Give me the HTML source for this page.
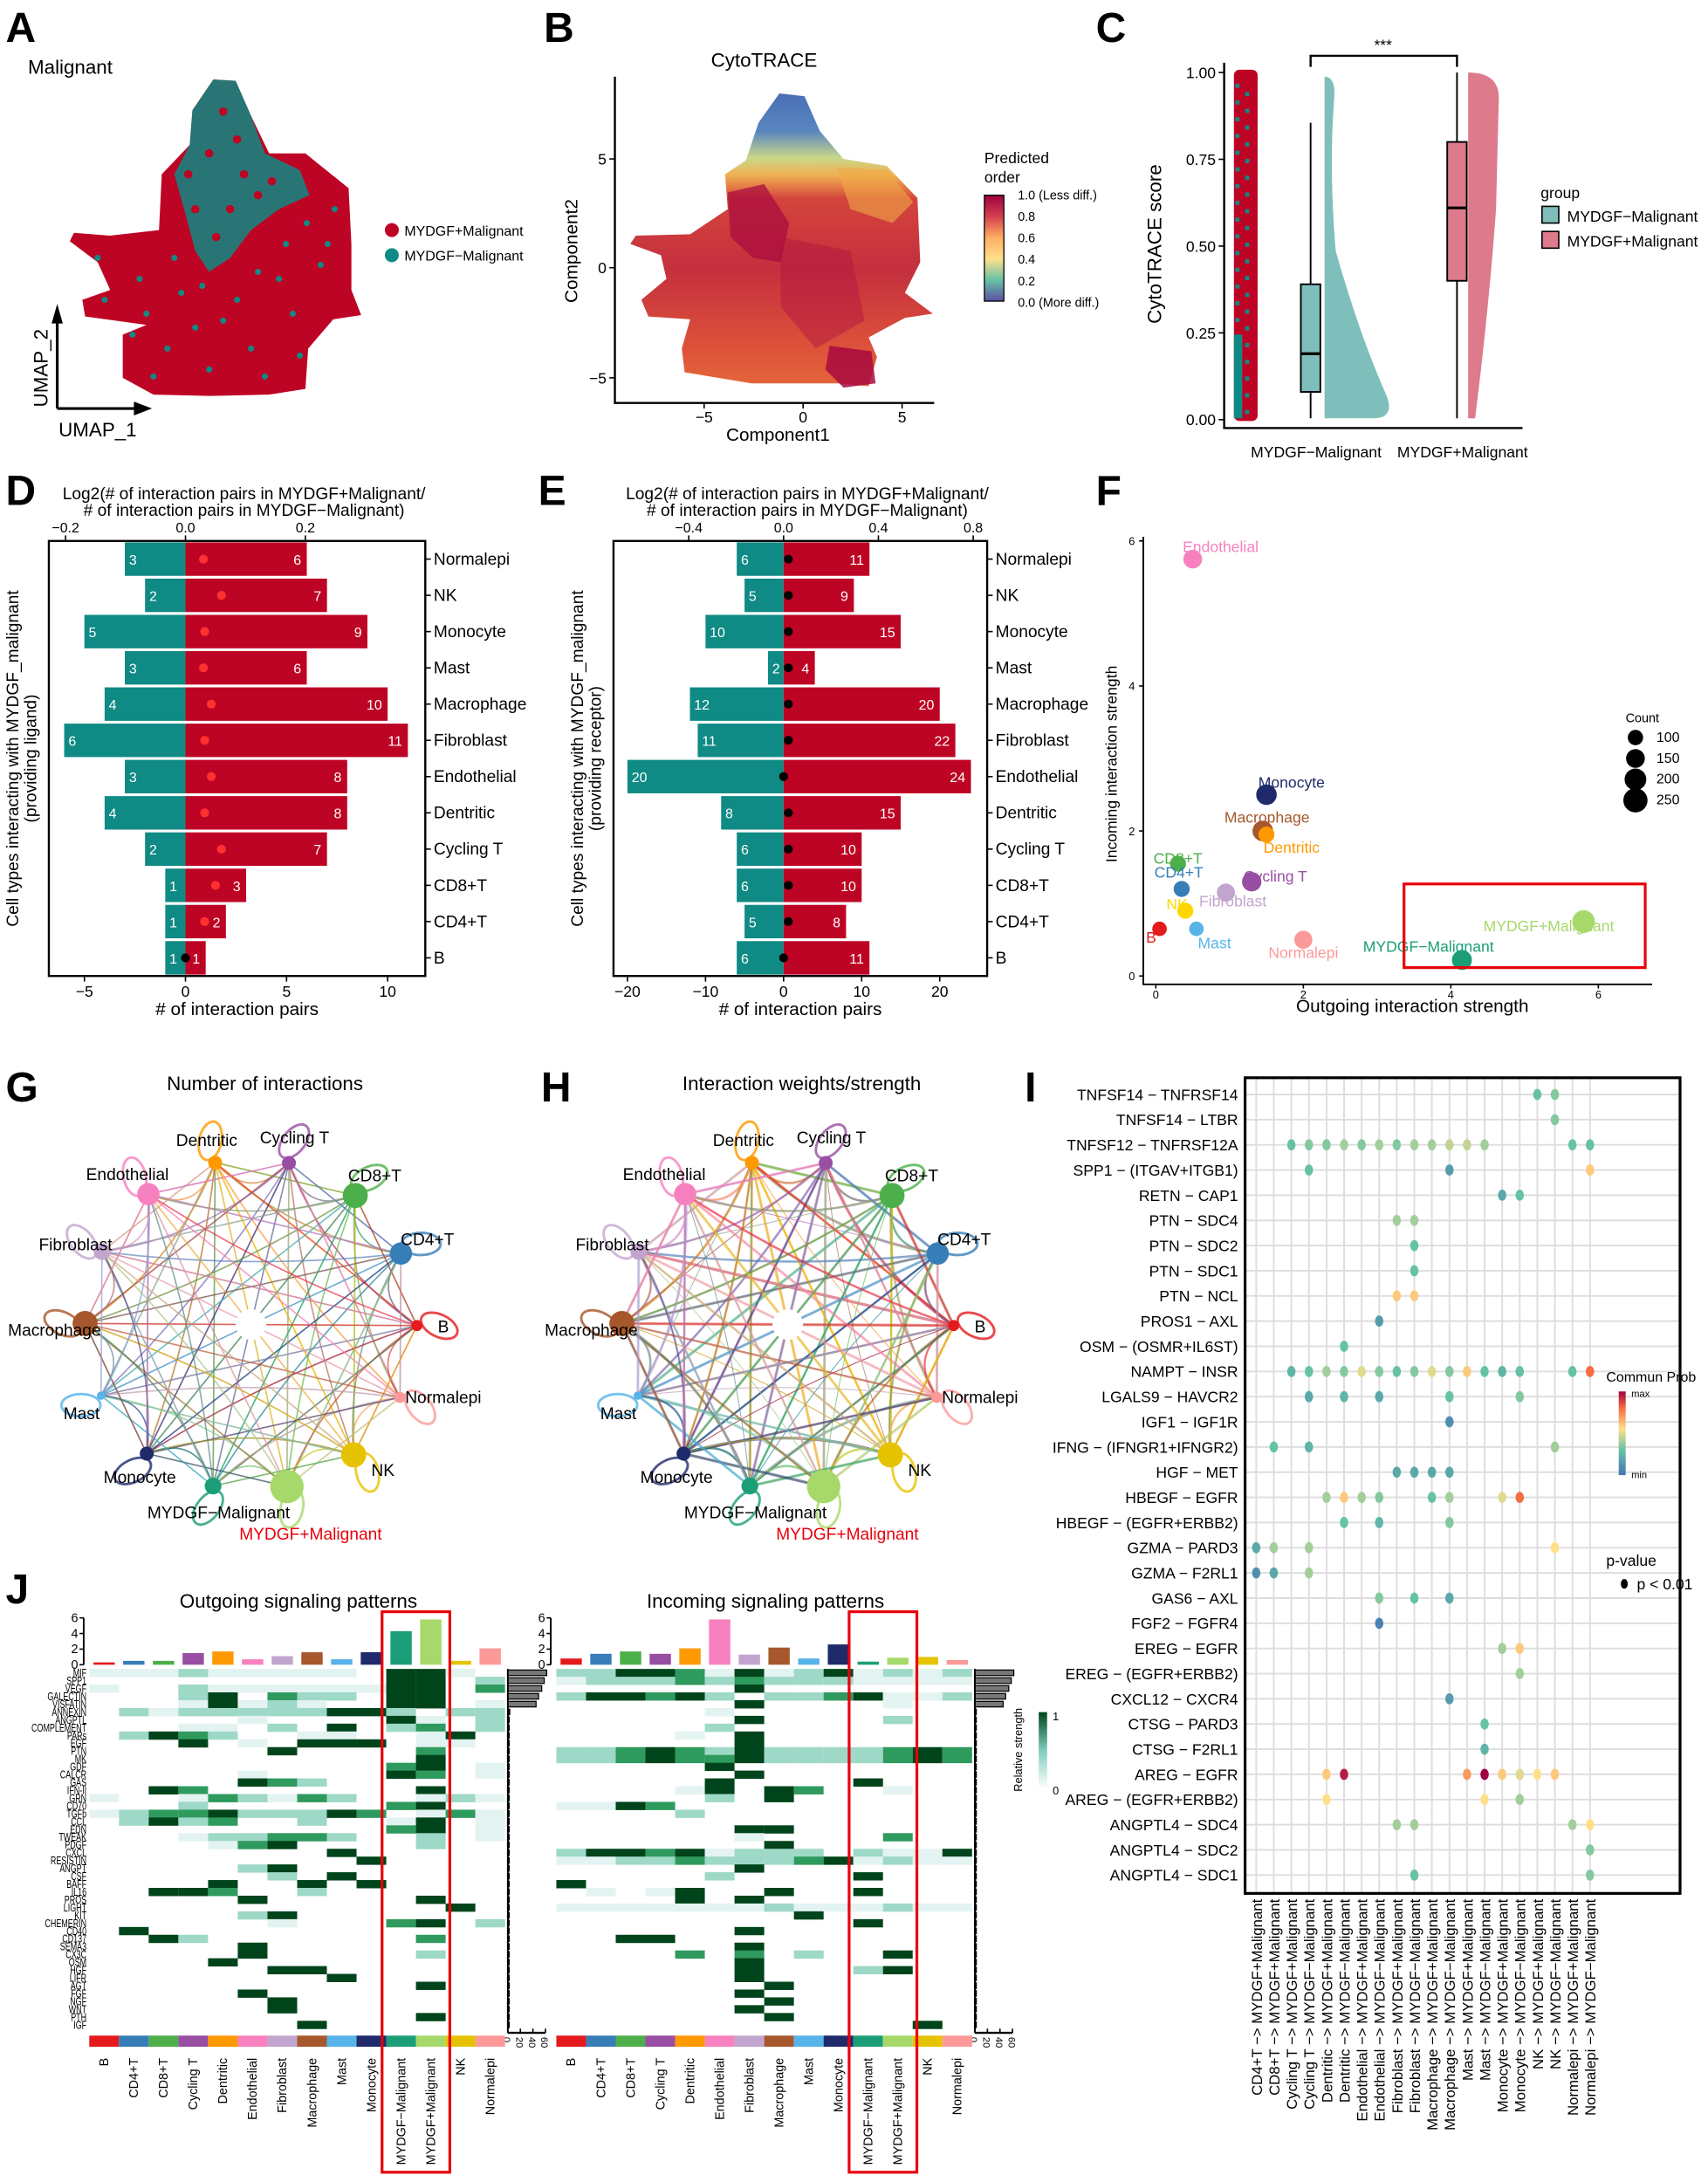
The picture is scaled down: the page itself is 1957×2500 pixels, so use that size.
<!DOCTYPE html>
<html><head><meta charset="utf-8">
<style>
html,body{margin:0;padding:0;background:#fff;}
svg{display:block;font-family:"Liberation Sans",Arial,sans-serif;}
</style></head>
<body>
<svg id="fig" width="1957" height="2500" viewBox="0 0 1225 1565" xmlns="http://www.w3.org/2000/svg">
<g id="root"></g>
</svg>
<script>
// ---------- DATA ----------
const cellTypes = ["Normalepi","NK","Monocyte","Mast","Macrophage","Fibroblast","Endothelial","Dentritic","Cycling T","CD8+T","CD4+T","B"];
const ligandLeft = [3,2,5,3,4,6,3,4,2,1,1,1];
const ligandRight = [6,7,9,6,10,11,8,8,7,3,2,1];
const ligandDot = [0.03,0.06,0.032,0.03,0.043,0.032,0.043,0.032,0.06,0.05,0.032,0.0];
const receptorLeft = [6,5,10,2,12,11,20,8,6,6,5,6];
const receptorRight = [11,9,15,4,20,22,24,15,10,10,8,11];
const receptorDot = [0.02,0.02,0.02,0.02,0.02,0.02,0.0,0.02,0.02,0.02,0.02,0.0];

const fNames = ["Endothelial","Monocyte","Macrophage","Dentritic","CD8+T","CD4+T","Cycling T","Fibroblast","NK","Mast","B","Normalepi","MYDGF+Malignant","MYDGF-Malignant"];
const fOut = [0.5,1.5,1.45,1.5,0.3,0.35,1.3,0.95,0.4,0.55,0.05,2.0,5.8,4.15];
const fIn = [5.75,2.5,2.0,1.95,1.55,1.2,1.3,1.15,0.9,0.65,0.65,0.5,0.75,0.22];
const fCount = [150,180,180,110,110,110,160,140,110,90,90,140,220,170];
const fColors = ["#f781bf","#1f2a6b","#a6582c","#ff9900","#4daf4a","#377eb8","#984ea3","#c2a5cf","#ffd700","#56b4e9","#e41a1c","#fb9a99","#a6d96a","#1b9e77"];

const circNames = ["Dentritic","Cycling T","CD8+T","CD4+T","B","Normalepi","NK","MYDGF+Malignant","MYDGF-Malignant","Monocyte","Mast","Macrophage","Fibroblast","Endothelial"];
const circColors = ["#ff9900","#984ea3","#4daf4a","#377eb8","#e41a1c","#fb9a99","#e6c300","#a6d96a","#1b9e77","#1f2a6b","#56b4e9","#a6582c","#c2a5cf","#f781bf"];
const circSizes = [5,5,9,8,4,4,9,12,6,5,3,9,6,8];

const iRows = ["TNFSF14 - TNFRSF14","TNFSF14 - LTBR","TNFSF12 - TNFRSF12A","SPP1 - (ITGAV+ITGB1)","RETN - CAP1","PTN - SDC4","PTN - SDC2","PTN - SDC1","PTN - NCL","PROS1 - AXL","OSM - (OSMR+IL6ST)","NAMPT - INSR","LGALS9 - HAVCR2","IGF1 - IGF1R","IFNG - (IFNGR1+IFNGR2)","HGF - MET","HBEGF - EGFR","HBEGF - (EGFR+ERBB2)","GZMA - PARD3","GZMA - F2RL1","GAS6 - AXL","FGF2 - FGFR4","EREG - EGFR","EREG - (EGFR+ERBB2)","CXCL12 - CXCR4","CTSG - PARD3","CTSG - F2RL1","AREG - EGFR","AREG - (EGFR+ERBB2)","ANGPTL4 - SDC4","ANGPTL4 - SDC2","ANGPTL4 - SDC1"];
const iCols = ["CD4+T -> MYDGF+Malignant","CD8+T -> MYDGF+Malignant","Cycling T -> MYDGF+Malignant","Cycling T -> MYDGF-Malignant","Dentritic -> MYDGF+Malignant","Dentritic -> MYDGF-Malignant","Endothelial -> MYDGF+Malignant","Endothelial -> MYDGF-Malignant","Fibroblast -> MYDGF+Malignant","Fibroblast -> MYDGF-Malignant","Macrophage -> MYDGF+Malignant","Macrophage -> MYDGF-Malignant","Mast -> MYDGF+Malignant","Mast -> MYDGF-Malignant","Monocyte -> MYDGF+Malignant","Monocyte -> MYDGF-Malignant","NK -> MYDGF+Malignant","NK -> MYDGF-Malignant","Normalepi -> MYDGF+Malignant","Normalepi -> MYDGF-Malignant"];
const iDots = [[16,17],[17],[2,3,4,5,6,7,8,9,10,11,12,13,18,19],[3,11,19],[14,15],[8,9],[9],[9],[8,9],[7],[5],[2,3,4,5,6,7,8,9,10,11,12,13,14,15,18,19],[3,5,7,11,15],[11],[1,3,17],[8,9,10,11],[4,5,6,7,10,11,14,15],[5,7,11],[0,1,3,17],[0,1,3],[7,9,11],[7],[14,15],[15],[11],[13],[13],[4,5,12,13,14,15,16,17],[4,13,15],[8,9,18,19],[19],[9,19]];
const iVals = [[0.3,0.35],[0.35],[0.3,0.35,0.35,0.4,0.35,0.4,0.35,0.4,0.4,0.45,0.45,0.4,0.3,0.3],[0.3,0.15,0.6],[0.2,0.3],[0.4,0.4],[0.3],[0.3],[0.6,0.6],[0.15],[0.3],[0.25,0.3,0.4,0.35,0.5,0.35,0.3,0.35,0.5,0.35,0.6,0.3,0.25,0.3,0.3,0.8,0.25,0.25],[0.2,0.25,0.2,0.3,0.35],[0.1],[0.3,0.25,0.4],[0.2,0.2,0.2,0.2],[0.4,0.6,0.4,0.35,0.3,0.4,0.5,0.8],[0.3,0.25,0.35],[0.2,0.4,0.4,0.55],[0.1,0.2,0.4],[0.35,0.3,0.2],[0.05],[0.4,0.6],[0.4],[0.15],[0.3],[0.25],[0.6,0.95,0.7,1.0,0.6,0.5,0.55,0.6],[0.55,0.55,0.4],[0.4,0.4,0.4,0.55],[0.35],[0.3,0.35]];

const jCols = ["B","CD4+T","CD8+T","Cycling T","Dentritic","Endothelial","Fibroblast","Macrophage","Mast","Monocyte","MYDGF-Malignant","MYDGF+Malignant","NK","Normalepi"];
const jColColors = ["#e41a1c","#377eb8","#4daf4a","#984ea3","#ff9900","#f781bf","#c2a5cf","#a6582c","#56b4e9","#1f2a6b","#1b9e77","#a6d96a","#e6c300","#fb9a99"];
const jOutBars = [0.3,0.5,0.5,1.5,1.7,0.7,1.1,1.6,0.7,1.6,4.3,5.8,0.5,2.1];
const jInBars = [0.8,1.4,1.7,1.4,2.1,5.8,1.3,2.2,0.8,2.6,0.4,0.9,1.0,0.6];
const jRows = ["MIF","SPP1","VEGF","GALECTIN","VISFATIN","ANNEXIN","ANGPTL","COMPLEMENT","PARs","EGF","PTN","MK","GDF","CALCR","GAS","IFN-II","GRN","CD70","TGFb","CCL","EDN","TWEAK","PDGF","CXCL","RESISTIN","ANGPT","CSF","BAFF","IL16","PROS","LIGHT","KIT","CHEMERIN","CD40","CD137","SEMA3","CX3C","OSM","HGF","LIFR","AGT","FGF","NGF","WNT","PTH","IGF"];
const jOutRowSums = [62,58,54,49,45,3,1,1,1,1,1,1,1,1,1,1,1,1,1,1,1,1,1,1,1,1,1,1,1,1,1,1,1,1,1,1,1,1,1,1,1,1,1,1,1,1];
const jInRowSums = [62,58,54,49,45,2,1,1,1,1,1,1,1,1,1,1,1,1,1,1,1,1,1,1,1,1,1,1,1,1,1,1,1,1,1,1,1,1,1,1,1,1,1,1,1,1];
const jOut = ["11121111104410","00000000004402","10021111114403","00024032204400","00014121004401","02122222442022","00000100004102","00011020402302","02432001100140","00040104440110","00000040000300","00000000000400","00000000003401","00000100004301","00000432000000","00430000000400","10013213200121","00020000003400","12334222430131","02423002001401","00000000003401","00012233200201","00001340000200","00000000400000","00000000040000","00000240000000","00000020400000","00004004040000","00443002000000","00000400000400","00000000000040","00000240000000","00000010003402","04000000000000","00420000000300","00000400000000","00000400000200","00004000000000","00000044000000","00000000400000","00000000000400","00000400000000","00000040000000","00000040000000","00000000000400","00000004000000"];
const jIn = ["22443141241212","12223232221111","00000040000000","24434202234112","00000040000100","00000100000000","00000040000200","00000200000000","00001040000000","00000040000000","22343242222343","22343342222343","00000400000000","00000040000000","00000400004000","00001404300100","00000204000000","11430000000000","00002000000000","00000000000000","00000044000000","00000010000300","00000004000000","24434122202114","11223222341211","00000040000000","00000200004000","40000000000000","01014004004000","00004040000000","11111112111211","00000000400000","00000000004000","00000040000000","00440000000000","00000040000000","00003030200400","00000040000000","00000040002400","00000040000000","00000004000000","00000040000000","00000004000000","00000040000000","00000004000000","00000000000040"];

// ---------- HELPERS ----------
const NS = "http://www.w3.org/2000/svg";
const root = document.getElementById("root");
function mk(tag, attrs, parent, text) {
  const e = document.createElementNS(NS, tag);
  for (const k in attrs) e.setAttribute(k, attrs[k]);
  if (text !== undefined) e.textContent = text;
  (parent || root).appendChild(e);
  return e;
}
function group(name, parent) {
  const g = mk("g", {}, parent);
  
  
  return g;
}
function txt(parent, x, y, s, size, opts) {
  const a = Object.assign({x: x, y: y, "font-size": size, fill: "#000"}, opts || {});
  return mk("text", a, parent, s);
}
function panelLabel(letter, x, y) {
  const t = txt(root, x, y, letter, 30, {"font-weight": "bold"});
  
  
}
// ---------- PANEL A ----------
(function(){
  panelLabel("A", 4, 30);
  const g = group("panel-a-umap");
  txt(g, 20, 53, "Malignant", 14);
  mk("path", {d:"M153,57 L169,58 L180,83 L193,110 L219,110 L250,135 L252,175 L252,208 L259,226 L239,229 L221,250 L219,279 L193,283 L150,284 L110,283 L88,271 L88,240 L105,233 L61,227 L59,215 L79,208 L70,188 L50,173 L53,167 L79,169 L114,165 L116,125 L136,104 L138,79 Z", fill:"#be0424"}, g);
  mk("path", {d:"M153,57 L169,58 L180,83 L190,110 L215,122 L222,140 L200,150 L180,165 L165,185 L150,195 L140,180 L132,150 L125,125 L136,104 L138,79 Z", fill:"#0f8a84", opacity:"0.85"}, g);
  const redDots = [[160,80],[150,110],[175,125],[140,150],[165,150],[185,140],[155,170],[195,130],[135,125],[170,100]];
  redDots.forEach(p => mk("circle", {cx:p[0], cy:p[1], r:3, fill:"#be0424"}, g));
  const tealDots = [[100,200],[130,210],[170,215],[95,240],[120,250],[160,230],[200,200],[110,270],[150,265],[70,185],[180,250],[210,225],[230,190],[240,150],[220,160],[140,235],[190,270],[75,215],[215,255],[105,225],[125,185],[145,205],[185,195],[205,175],[235,175]];
  tealDots.forEach(p => mk("circle", {cx:p[0], cy:p[1], r:2.2, fill:"#0f8a84"}, g));
  mk("path", {d:"M41,293 L41,228 M41,293 L100,293", stroke:"#000", "stroke-width":2, fill:"none"}, g);
  mk("path", {d:"M37,232 L41,218 L45,232 Z M96,288 L109,293 L96,298 Z", fill:"#000"}, g);
  txt(g, 34, 292, "UMAP_2", 14, {transform:"rotate(-90 34 292)"});
  txt(g, 42, 313, "UMAP_1", 14);
  const lg = group("legend-a", g);
  mk("circle", {cx:281, cy:165, r:5, fill:"#be0424"}, lg);
  txt(lg, 290, 169, "MYDGF+Malignant", 10);
  mk("circle", {cx:281, cy:183, r:5, fill:"#0f8a84"}, lg);
  txt(lg, 290, 187, "MYDGF−Malignant", 10);
})();
// ---------- PANEL B ----------
(function(){
  panelLabel("B", 390, 30);
  const g = group("panel-b-cytotrace");
  txt(g, 548, 48, "CytoTRACE", 14, {"text-anchor":"middle"});
  const defs = mk("defs", {}, g);
  const lgr = mk("linearGradient", {id:"spectral", x1:0, y1:1, x2:0, y2:0}, defs);
  [["0","#5e4fa2"],["0.2","#66c2a5"],["0.4","#fee08b"],["0.6","#fdae61"],["0.8","#d53e4f"],["1","#9e0142"]].forEach(s=>mk("stop",{offset:s[0],"stop-color":s[1]},lgr));
  const bg = mk("linearGradient", {id:"blobgrad", x1:0, y1:0, x2:0, y2:1}, defs);
  [["0","#4a6fb5"],["0.13","#5a86c0"],["0.22","#c9d88a"],["0.28","#f0b050"],["0.36","#d4443c"],["0.6","#c42f3e"],["0.85","#dc4f3a"],["1","#e4663a"]].forEach(s=>mk("stop",{offset:s[0],"stop-color":s[1]},bg));
  mk("path", {d:"M559,67 L577,69 L588,94 L605,114 L636,119 L658,142 L660,188 L649,210 L669,225 L649,228 L623,242 L629,256 L623,277 L601,275 L539,275 L491,267 L489,250 L495,229 L465,227 L460,215 L478,200 L474,183 L452,175 L456,169 L495,168 L522,150 L520,125 L535,115 L544,88 Z", fill:"url(#blobgrad)"}, g);
  mk("path", {d:"M600,120 L636,122 L655,145 L640,160 L610,150 Z", fill:"#f0a848", opacity:"0.6"}, g);
  mk("path", {d:"M522,138 L548,132 L566,160 L560,188 L540,185 L524,170 Z", fill:"#a8093f", opacity:"0.7"}, g);
  mk("path", {d:"M560,170 L610,180 L620,230 L585,250 L560,220 Z", fill:"#b01540", opacity:"0.45"}, g);
  mk("path", {d:"M595,248 L625,252 L628,275 L605,278 L592,265 Z", fill:"#a8093f", opacity:"0.85"}, g);
  mk("path", {d:"M441,55 L441,289 L670,289", stroke:"#000", fill:"none", "stroke-width":1.5}, g);
  [-5,0,5].forEach(t=>{ const x = 576 + t*14.2; mk("line",{x1:x,y1:289,x2:x,y2:293,stroke:"#000"},g); txt(g,x,303,String(t).replace("-","−"),11,{"text-anchor":"middle"}); });
  [[5,114],[0,192],[-5,271]].forEach(t=>{ mk("line",{x1:437,y1:t[1],x2:441,y2:t[1],stroke:"#000"},g); txt(g,435,t[1]+4,String(t[0]).replace("-","−"),11,{"text-anchor":"end"}); });
  txt(g, 558, 316, "Component1", 13, {"text-anchor":"middle"});
  txt(g, 414, 180, "Component2", 13, {"text-anchor":"middle", transform:"rotate(-90 414 180)"});
  const cb = group("colorbar-b", g);
  txt(cb, 706, 117, "Predicted", 11); txt(cb, 706, 131, "order", 11);
  mk("rect", {x:706, y:140, width:14, height:76, fill:"url(#spectral)", stroke:"#000", "stroke-width":0.8}, cb);
  ["1.0 (Less diff.)","0.8","0.6","0.4","0.2","0.0 (More diff.)"].forEach((s,i)=>txt(cb, 730, 143+i*15.4, s, 9));
})();
// ---------- PANEL C ----------
(function(){
  panelLabel("C", 786, 30);
  const g = group("panel-c-violin");
  const y0 = 301, y1 = 52; const Y = v => y0 - v*(y0-y1);
  mk("path", {d:"M878,45 L878,307 L1092,307", stroke:"#000", fill:"none", "stroke-width":1.5}, g);
  [0,0.25,0.5,0.75,1].forEach(v=>{ mk("line",{x1:874,y1:Y(v),x2:878,y2:Y(v),stroke:"#000"},g); txt(g,872,Y(v)+4,v.toFixed(2),11,{"text-anchor":"end"}); });
  txt(g, 833, 175, "CytoTRACE score", 14, {"text-anchor":"middle", transform:"rotate(-90 833 175)"});
  mk("rect", {x:885, y:50, width:17, height:252, rx:4, fill:"#be0424"}, g);
  for (let i=0;i<40;i++){ mk("rect",{x:886+(i*7)%14, y:60+i*6, width:3, height:3, fill:"#0f8a84"}, g); }
  mk("rect", {x:885, y:240, width:6, height:60, fill:"#0f8a84"}, g);
  mk("path", {d:"M950,300 L950,55 Q958,55 957,70 Q953,120 958,180 Q975,240 995,285 Q1000,300 985,300 Z", fill:"#7fbfbb"}, g);
  mk("path", {d:"M1053,300 L1053,52 Q1075,52 1075,70 L1073,150 Q1068,220 1058,300 Z", fill:"#dd7a8b"}, g);
  mk("line",{x1:940,y1:88,x2:940,y2:300,stroke:"#000","stroke-width":1.2},g);
  mk("rect",{x:933,y:Y(0.39),width:14,height:Y(0.08)-Y(0.39),fill:"#7fbfbb",stroke:"#000","stroke-width":1.2},g);
  mk("line",{x1:933,y1:Y(0.19),x2:947,y2:Y(0.19),stroke:"#000","stroke-width":2},g);
  mk("line",{x1:1045,y1:52,x2:1045,y2:300,stroke:"#000","stroke-width":1.2},g);
  mk("rect",{x:1038,y:Y(0.8),width:14,height:Y(0.4)-Y(0.8),fill:"#dd7a8b",stroke:"#000","stroke-width":1.2},g);
  mk("line",{x1:1038,y1:Y(0.61),x2:1052,y2:Y(0.61),stroke:"#000","stroke-width":2},g);
  mk("path",{d:"M940,48 L940,40 L1045,40 L1045,48",stroke:"#000",fill:"none","stroke-width":1.5},g);
  txt(g, 992, 36, "***", 11, {"text-anchor":"middle"});
  txt(g, 944, 328, "MYDGF−Malignant", 11, {"text-anchor":"middle"});
  txt(g, 1049, 328, "MYDGF+Malignant", 11, {"text-anchor":"middle"});
  const lg = group("legend-c", g);
  txt(lg, 1105, 142, "group", 11);
  mk("rect",{x:1106,y:148,width:12,height:12,fill:"#7fbfbb",stroke:"#000"},lg); txt(lg,1124,159,"MYDGF−Malignant",11);
  mk("rect",{x:1106,y:166,width:12,height:12,fill:"#dd7a8b",stroke:"#000"},lg); txt(lg,1124,177,"MYDGF+Malignant",11);
})();
// ---------- PANELS D,E (diverging bars) ----------
function divBar(letter, lx, frame, cx, ppu, left, right, dots, ticksBottom, ticksTop, topScale, dotColors, ylab){
  panelLabel(letter, lx, 362);
  const g = group("panel-"+letter.toLowerCase()+"-bars");
  const [fx0, fy0, fx1, fy1] = frame;
  const rowH = (fy1-fy0)/12;
  for (let i=0;i<12;i++){
    const y = fy0 + i*rowH + 1; const h = rowH-2;
    const xl = cx - left[i]*ppu; const xr = cx + right[i]*ppu;
    const bl = mk("rect",{x:xl,y:y,width:cx-xl,height:h,fill:"#0f8a84"},g);
    
    
    const br = mk("rect",{x:cx,y:y,width:xr-cx,height:h,fill:"#be0424"},g);
    
    
    txt(g, xl+3, y+h/2+4, String(left[i]), 10, {fill:"#fff"});
    txt(g, xr-4, y+h/2+4, String(right[i]), 10, {fill:"#fff","text-anchor":"end"});
    mk("circle",{cx:cx+dots[i]*topScale,cy:y+h/2,r:3.2,fill:dotColors[i]},g);
    mk("line",{x1:fx1,y1:y+h/2,x2:fx1+4,y2:y+h/2,stroke:"#000"},g);
    txt(g, fx1+6, y+h/2+4, cellTypes[i], 12);
  }
  mk("rect",{x:fx0,y:fy0,width:fx1-fx0,height:fy1-fy0,fill:"none",stroke:"#000","stroke-width":1.5},g);
  ticksBottom.forEach(t=>{ const x=cx+t*ppu; mk("line",{x1:x,y1:fy1,x2:x,y2:fy1+4,stroke:"#000"},g); txt(g,x,fy1+15,String(t).replace("-","−"),11,{"text-anchor":"middle"}); });
  ticksTop.forEach(t=>{ const x=cx+t*topScale; mk("line",{x1:x,y1:fy0,x2:x,y2:fy0-4,stroke:"#000"},g); txt(g,x,fy0-6,t.toFixed(1).replace("-","−"),10,{"text-anchor":"middle"}); });
  txt(g,(fx0+fx1)/2,fy1+28,"# of interaction pairs",13,{"text-anchor":"middle"});
  txt(g,(fx0+fx1)/2+5,358,"Log2(# of interaction pairs in MYDGF+Malignant/",12,{"text-anchor":"middle"});
  txt(g,(fx0+fx1)/2+5,370,"# of interaction pairs in MYDGF−Malignant)",12,{"text-anchor":"middle"});
  txt(g,fx0-22,(fy0+fy1)/2,"Cell types interacting with MYDGF_malignant",12,{"text-anchor":"middle",transform:"rotate(-90 "+(fx0-22)+" "+((fy0+fy1)/2)+")"});
  txt(g,fx0-9,(fy0+fy1)/2,ylab,12,{"text-anchor":"middle",transform:"rotate(-90 "+(fx0-9)+" "+((fy0+fy1)/2)+")"});
}
const redDotsD = cellTypes.map((c,i)=> i===11 ? "#000" : "#ff3030");
const blackDotsE = cellTypes.map(()=> "#000");
divBar("D", 4, [35,388,305,700], 133, 14.5, ligandLeft, ligandRight, ligandDot, [-5,0,5,10], [-0.2,0,0.2], 430, redDotsD, "(providing ligand)");
divBar("E", 386, [440,388,708,700], 562, 5.6, receptorLeft, receptorRight, receptorDot, [-20,-10,0,10,20], [-0.4,0,0.4,0.8], 170, blackDotsE, "(providing receptor)");
// ---------- PANEL F ----------
(function(){
  panelLabel("F", 786, 362);
  const g = group("panel-f-scatter");
  const X = v => 829 + v*52.9, Y = v => 700 - v*52;
  mk("path",{d:"M820,385 L820,706 L1185,706",stroke:"#000",fill:"none","stroke-width":1.2},g);
  [0,2,4,6].forEach(v=>{ mk("line",{x1:X(v),y1:706,x2:X(v),y2:709,stroke:"#000"},g); txt(g,X(v),716,String(v),8,{"text-anchor":"middle"}); mk("line",{x1:817,y1:Y(v),x2:820,y2:Y(v),stroke:"#000"},g); txt(g,814,Y(v)+3,String(v),8,{"text-anchor":"end"}); });
  txt(g,1013,726,"Outgoing interaction strength",13,{"text-anchor":"middle"});
  txt(g,801,548,"Incoming interaction strength",11,{"text-anchor":"middle",transform:"rotate(-90 801 548)"});
  const lofs = {"Endothelial":[20,-9],"Monocyte":[18,-9],"Macrophage":[3,-10],"Dentritic":[18,9],"CD8+T":[0,-4],"CD4+T":[-2,-12],"Cycling T":[17,-4],"Fibroblast":[5,6],"NK":[-6,-5],"Mast":[13,10],"B":[-6,6],"Normalepi":[0,9],"MYDGF+Malignant":[-25,3],"MYDGF-Malignant":[-24,-10]};
  fNames.forEach((n,i)=>{
    const c = mk("circle",{cx:X(fOut[i]),cy:Y(fIn[i]),r:Math.sqrt(fCount[i])*0.55,fill:fColors[i]},g);
    
    
    const o = lofs[n];
    txt(g,X(fOut[i])+o[0],Y(fIn[i])+o[1]+4,n.replace("-","−"),11,{fill:fColors[i],"text-anchor":"middle"});
  });
  mk("rect",{x:1007,y:634,width:173,height:60,fill:"none",stroke:"#e8000b","stroke-width":2},g);
  const lg = group("legend-f", g);
  txt(lg,1166,518,"Count",9);
  [100,150,200,250].forEach((v,i)=>{ mk("circle",{cx:1173,cy:529+i*15,r:Math.sqrt(v)*0.55,fill:"#000"},lg); txt(lg,1188,532+i*15,String(v),10); });
})();
// ---------- PANELS G,H (circle networks) ----------
const circLabelOffsets = [[-6,-16],[4,-18],[14,-14],[19,-10],[19,1],[31,0],[21,11],[17,34],[4,19],[-5,17],[-14,13],[-22,5],[-19,-5],[-15,-14]];
function circle(letter, cx, cy, title, lx, weighted){
  panelLabel(letter, lx, 790);
  const g = group("panel-"+letter.toLowerCase()+"-network");
  txt(g, cx+10, 782, title, 14, {"text-anchor":"middle"});
  const R = 119; const n = circNames.length;
  const a0 = -102.5*Math.PI/180, step = 2*Math.PI/n;
  const pts = circNames.map((_,i)=>[cx+R*Math.cos(a0+i*step), cy+R*Math.sin(a0+i*step)]);
  for (let i=0;i<n;i++) for (let j=0;j<n;j++) if (i!==j) {
    const w = weighted ? (0.6 + ((i*7+j*3)%5)*0.35) : 1.0;
    if ((i+j)%2===0) {
      mk("line",{x1:pts[i][0],y1:pts[i][1],x2:pts[j][0],y2:pts[j][1],stroke:circColors[i],"stroke-width":w,opacity:0.55},g);
    } else {
      const mx=(pts[i][0]+pts[j][0])/2, my=(pts[i][1]+pts[j][1])/2;
      mk("path",{d:"M"+pts[i][0]+","+pts[i][1]+" Q"+(mx+(cx-mx)*0.25)+","+(my+(cy-my)*0.25)+" "+pts[j][0]+","+pts[j][1],stroke:circColors[j],"stroke-width":w,fill:"none",opacity:0.5},g);
    }
  }
  mk("circle",{cx:cx,cy:cy,r:11,fill:"#fff"},g);
  pts.forEach((p,i)=>{
    const dx=p[0]-cx, dy=p[1]-cy, L=Math.hypot(dx,dy), ang=Math.atan2(dy,dx)*180/Math.PI;
    const ex = p[0]+dx/L*16, ey = p[1]+dy/L*16;
    mk("ellipse",{cx:ex,cy:ey,rx:14,ry:8,fill:"none",stroke:circColors[i],"stroke-width":1.8,opacity:0.8,transform:"rotate("+(ang+25)+" "+ex+" "+ey+")"},g);
    const c = mk("circle",{cx:p[0],cy:p[1],r:circSizes[i],fill:circColors[i]},g);
    
    
    const o = circLabelOffsets[i];
    const isPlus = circNames[i]==="MYDGF+Malignant";
    txt(g, p[0]+o[0], p[1]+o[1]+4, circNames[i].replace("-","−"), 12, {"text-anchor":"middle", fill: isPlus?"#e8000b":"#000"});
  });
}
circle("G", 180, 950, "Number of interactions", 4, false);
circle("H", 565, 950, "Interaction weights/strength", 388, true);
// ---------- PANEL I (dot plot) ----------
(function(){
  panelLabel("I", 735, 790);
  const g = group("panel-i-dotplot");
  const x0=893, y0=773, x1=1205, y1=1358;
  const colX = i => 901 + i*12.6;
  const rowY = r => 785 + r*18.06;
  for (let i=0;i<iCols.length;i++) mk("line",{x1:colX(i),y1:y0,x2:colX(i),y2:y1,stroke:"#ddd","stroke-width":1.2},g);
  for (let r=0;r<iRows.length;r++){ mk("line",{x1:x0,y1:rowY(r),x2:x1,y2:rowY(r),stroke:"#ddd","stroke-width":1.2},g); txt(g,888,rowY(r)+4,iRows[r].replace(" - "," − "),11,{"text-anchor":"end"}); }
  const cscale = v => { const stops=[[0,[69,117,180]],[0.3,[102,194,165]],[0.55,[254,224,139]],[0.8,[244,109,67]],[1,[158,1,66]]]; for(let k=1;k<stops.length;k++){ if(v<=stops[k][0]){ const a=stops[k-1],b=stops[k],t=(v-a[0])/(b[0]-a[0]); return "rgb("+a[1].map((c,m)=>Math.round(c+(b[1][m]-c)*t)).join(",")+")"; } } return "rgb(158,1,66)"; };
  iDots.forEach((cols,r)=>cols.forEach((c,k)=>{
    const e = mk("ellipse",{cx:colX(c),cy:rowY(r),rx:3,ry:4,fill:cscale(iVals[r][k])},g);
    
    
  }));
  mk("rect",{x:x0,y:y0,width:x1-x0,height:y1-y0,fill:"none",stroke:"#000","stroke-width":2},g);
  iCols.forEach((s,i)=>txt(g,colX(i)+4,1362,s.replace("->","−>").replace("-Malignant","−Malignant"),10.5,{"text-anchor":"end",transform:"rotate(-90 "+(colX(i)+4)+" 1362)"}));
  const lg = group("legend-i", g);
  txt(lg,1152,991,"Commun Prob",10);
  const defs = mk("defs",{},lg);
  const gr = mk("linearGradient",{id:"cpgrad",x1:0,y1:1,x2:0,y2:0},defs);
  [["0","#4575b4"],["0.3","#66c2a5"],["0.55","#fee08b"],["0.8","#f46d43"],["1","#9e0142"]].forEach(s=>mk("stop",{offset:s[0],"stop-color":s[1]},gr));
  mk("rect",{x:1161,y:998,width:5,height:60,fill:"url(#cpgrad)"},lg);
  txt(lg,1170,1002,"max",7); txt(lg,1170,1060,"min",7);
  txt(lg,1152,1123,"p-value",11);
  mk("ellipse",{cx:1165,cy:1136,rx:2.5,ry:3.5,fill:"#000"},lg);
  txt(lg,1174,1140,"p < 0.01",11);
})();
// ---------- PANEL J (heatmaps) ----------
function heat(name, x0, data, bars, rowSums, title, showLabels){
  const g = group(name);
  const cw = 21.3, top = 1197, rh = 258/data.length, sumScale = 0.45;
  txt(g, x0+150, 1153, title, 14, {"text-anchor":"middle"});
  const Yb = v => 1194 - v*5.6;
  mk("line",{x1:x0-4,y1:Yb(0),x2:x0-4,y2:Yb(6),stroke:"#000","stroke-width":1.2},g);
  [0,2,4,6].forEach(v=>{ mk("line",{x1:x0-7,y1:Yb(v),x2:x0-4,y2:Yb(v),stroke:"#000"},g); txt(g,x0-8,Yb(v)+3,String(v),9,{"text-anchor":"end"}); });
  bars.forEach((v,i)=>{ const b=mk("rect",{x:x0+i*cw+3,y:Yb(v),width:cw-6,height:Yb(0)-Yb(v),fill:jColColors[i]},g);
    
     });
  const shades = ["#ffffff","#e3f3f1","#9ed8c6","#2f9a5e","#00441b"];
  const bx = x0+14*cw+2;
  data.forEach((row,r)=>{
    for (let c=0;c<row.length;c++){ const v=+row[c]; if(v>0) mk("rect",{x:x0+c*cw,y:top+r*rh,width:cw,height:rh+0.3,fill:shades[v]},g); }
    if (showLabels) txt(g, (x0-2)/0.7, top+r*rh+rh, jRows[r], 8, {"text-anchor":"end", transform:"scale(0.7,1)"});
    mk("rect",{x:bx,y:top+r*rh+0.8,width:Math.max(rowSums[r]*sumScale,1),height:rh-1.6,fill:rowSums[r]>10?"#777":"#000",stroke:"#000","stroke-width":0.8},g);
  });
  mk("line",{x1:bx,y1:top,x2:bx,y2:1458,stroke:"#000","stroke-width":1.2},g);
  mk("line",{x1:bx,y1:1458,x2:bx+60*sumScale,y2:1458,stroke:"#000","stroke-width":1.5},g);
  [0,20,40,60].forEach(v=>{ const xx=bx+v*sumScale; mk("line",{x1:xx,y1:1458,x2:xx,y2:1455,stroke:"#000"},g); txt(g,xx-3,1461,String(v),7,{transform:"rotate(90 "+(xx-3)+" 1461)"}); });
  jCols.forEach((s,i)=>{ mk("rect",{x:x0+i*cw,y:1460,width:cw,height:8,fill:jColColors[i]},g); const xx=x0+i*cw+cw/2+3; txt(g,xx,1476,s.replace("-","−"),9,{"text-anchor":"end",transform:"rotate(-90 "+xx+" 1476)"}); });
  mk("rect",{x:x0+10*cw-3,y:1156,width:2*cw+6,height:402,fill:"none",stroke:"#e8000b","stroke-width":2},g);
}
panelLabel("J", 4, 1150);
heat("panel-j-outgoing", 64, jOut, jOutBars, jOutRowSums, "Outgoing signaling patterns", true);
heat("panel-j-incoming", 399, jIn, jInBars, jInRowSums, "Incoming signaling patterns", false);
(function(){
  const g = group("legend-j");
  const defs = mk("defs",{},g);
  const gr = mk("linearGradient",{id:"greens",x1:0,y1:1,x2:0,y2:0},defs);
  [["0","#ffffff"],["0.5","#7fcdbb"],["1","#00441b"]].forEach(s=>mk("stop",{offset:s[0],"stop-color":s[1]},gr));
  mk("rect",{x:745,y:1228,width:6,height:55,fill:"url(#greens)"},g);
  txt(g,755,1234,"1",8); txt(g,755,1287,"0",8);
  txt(g,733,1285,"Relative strength",8,{transform:"rotate(-90 733 1285)"});
})();
</script>
</body></html>
